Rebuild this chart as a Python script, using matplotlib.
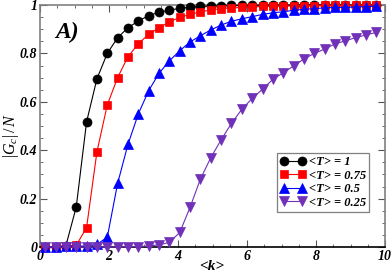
import numpy as np
import matplotlib
matplotlib.use("Agg")
import matplotlib.pyplot as plt
from matplotlib.ticker import MultipleLocator

plt.rcParams['font.family'] = ['Liberation Serif', 'DejaVu Serif']
plt.rcParams['mathtext.fontset'] = 'custom'
plt.rcParams['mathtext.it'] = 'Liberation Serif:italic'
plt.rcParams['mathtext.rm'] = 'Liberation Serif'

k = [0.15 + 0.3 * i for i in range(33)]

g_T1 = [0.0, 0.0, 0.005, 0.165, 0.517, 0.695, 0.800, 0.865, 0.906, 0.934, 0.956,
        0.970, 0.979, 0.986, 0.991, 0.994, 0.996, 0.997, 0.998, 0.998, 0.999, 0.999,
        0.999, 0.999, 1.0, 1.0, 1.0, 1.0, 1.0, 1.0, 1.0, 1.0, 1.0]
g_T075 = [0.0, 0.0, 0.005, 0.007, 0.080, 0.393, 0.587, 0.700, 0.786, 0.840, 0.879,
          0.906, 0.930, 0.949, 0.961, 0.972, 0.979, 0.985, 0.988, 0.990, 0.992, 0.994,
          0.995, 0.996, 0.996, 0.997, 0.997, 0.998, 0.998, 0.998, 0.999, 0.999, 0.999]
g_T05 = [0.0, 0.0, 0.004, 0.004, 0.004, 0.011, 0.040, 0.263, 0.424, 0.550, 0.646,
         0.718, 0.769, 0.811, 0.847, 0.873, 0.897, 0.917, 0.933, 0.943, 0.952, 0.961,
         0.968, 0.972, 0.978, 0.982, 0.985, 0.988, 0.990, 0.990, 0.992, 0.993, 0.996]
g_T025 = [0.0, 0.0, 0.0, 0.0, 0.0, 0.0, 0.0, 0.0, 0.001, 0.002, 0.004,
          0.009, 0.019, 0.060, 0.164, 0.281, 0.369, 0.443, 0.511, 0.569, 0.614, 0.652,
          0.693, 0.720, 0.748, 0.777, 0.800, 0.818, 0.839, 0.852, 0.865, 0.876, 0.887]

labels = ['<T> = 1', '<T> = 0.75', '<T> = 0.5', '<T> = 0.25']
colors = ['#000000', '#ff0000', '#0000ff', '#7030b8']
markers = ['o', 's', '^', 'v']
msizes = [6.5, 6.0, 7.0, 7.0]

fig = plt.figure(figsize=(3.92, 2.74), dpi=100)
ax = fig.add_axes([40/392, 1-247/274, 345/392, 242/274])

for y, lab, c, m, ms in zip([g_T1, g_T075, g_T05, g_T025], labels, colors, markers, msizes):
    ax.plot(k, y, color=c, marker=m, markersize=ms, lw=0.8, label=lab,
            markeredgewidth=0.5, clip_on=False, zorder=3)

ax.set_xlim(0, 10)
ax.set_ylim(0, 1)
ax.xaxis.set_minor_locator(MultipleLocator(0.5))
ax.yaxis.set_minor_locator(MultipleLocator(0.05))
ax.set_xticks([0, 2, 4, 6, 8, 10])
ax.set_xticklabels(['0', '2', '4', '6', '8', '10'])
ax.set_yticks([0, 0.2, 0.4, 0.6, 0.8, 1.0])
ax.set_yticklabels(['0', '0.2', '0.4', '0.6', '0.8', '1'])
ax.tick_params(which='both', direction='in', top=True, right=True, color='#555555')
ax.tick_params(which='major', length=5, width=0.8)
ax.tick_params(axis='x', which='major', pad=2)
ax.tick_params(axis='y', which='major', pad=2)
ax.tick_params(which='minor', length=2.5, width=0.6)
for lbl in ax.get_xticklabels() + ax.get_yticklabels():
    lbl.set_fontsize(10)
    lbl.set_fontweight('bold')
    lbl.set_fontstyle('italic')

for s in ['left', 'top', 'right']:
    ax.spines[s].set_color('#808080')
    ax.spines[s].set_linewidth(1.2)
ax.spines['bottom'].set_color('#000000')
ax.spines['bottom'].set_linewidth(1.2)

fig.text(212/392, 1-266/274, '<k>', fontsize=11, fontweight='bold', fontstyle='italic',
         ha='center', va='center')
fig.text(1/392, 1-135/274, r'$|G_c|\,/\,N$', fontsize=11.5, rotation=90,
         ha='left', va='center')

ax.text(0.045, 0.93, 'A)', transform=ax.transAxes, fontsize=17, fontweight='bold',
        fontstyle='italic', ha='left', va='top')

leg = ax.legend(loc='lower right', bbox_to_anchor=(0.955, 0.145), numpoints=2,
                prop={'size': 9, 'weight': 'bold', 'style': 'italic'},
                frameon=True, fancybox=False, borderpad=0.25, labelspacing=0.12,
                handlelength=2.0, handletextpad=0.3, borderaxespad=0)
leg.get_frame().set_edgecolor('#606060')
leg.get_frame().set_linewidth(0.9)

fig.savefig('out.png', dpi=100)
